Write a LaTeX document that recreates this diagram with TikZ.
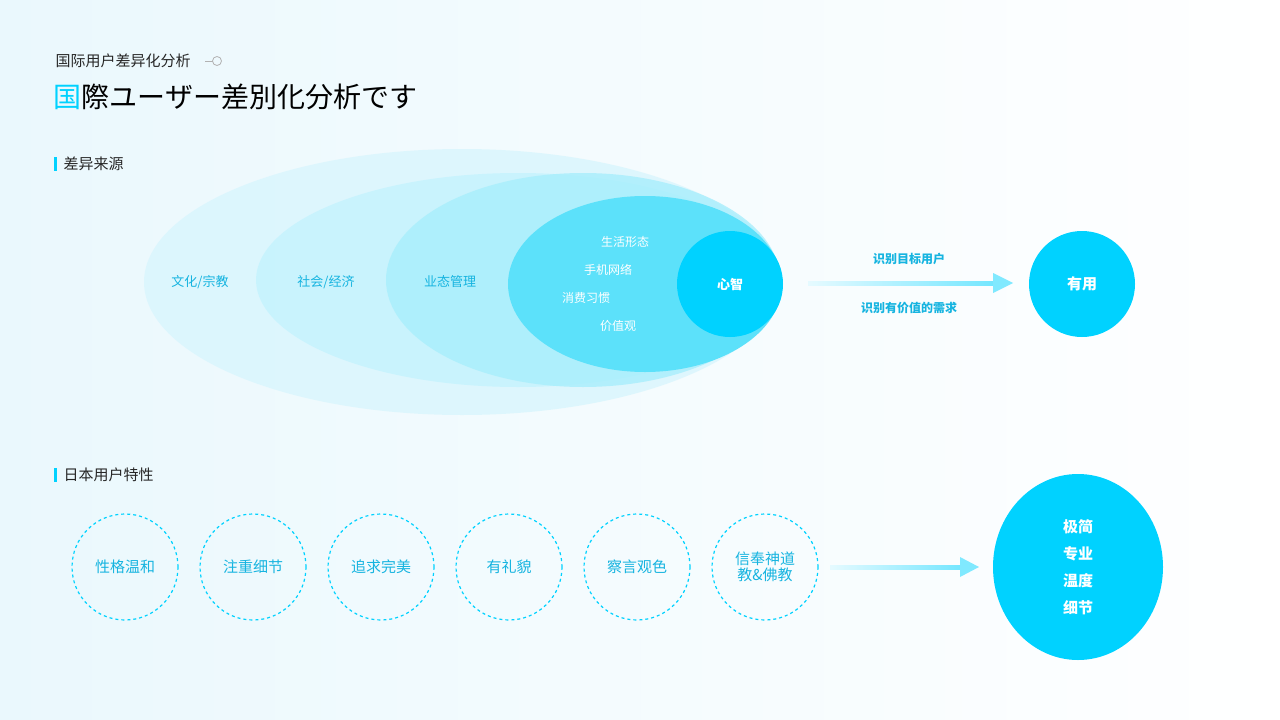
\documentclass[tikz,border=0pt]{standalone}
\usepackage{fontspec}
\setmainfont{Noto Sans CJK SC}
\newfontfamily\jp{Noto Sans CJK JP}
\usetikzlibrary{arrows.meta}
\definecolor{cyanA}{HTML}{00D2FF}
\definecolor{cyanB}{HTML}{5CE1FA}
\definecolor{cyanC}{HTML}{A8EEFC}
\definecolor{cyanD}{HTML}{C4F3FD}
\definecolor{cyanE}{HTML}{DAF6FD}
\definecolor{txt}{HTML}{16B4E0}
\definecolor{bgA}{HTML}{EAF8FD}
\tikzset{
 lbl/.style={font=\fontsize{13}{15}\selectfont, text=txt},
 wlbl/.style={font=\fontsize{13}{15}\selectfont\bfseries, text=white},
 dcirc/.style={circle, draw=cyanA, dashed, line width=1.2pt, minimum size=106pt, inner sep=0pt, font=\fontsize{15}{18}\selectfont, text=txt, align=center},
 head/.style={font=\fontsize{15}{18}\selectfont, anchor=west, text=black!85},
 bar/.style={line width=3pt, draw=cyanA}
}
\begin{document}
\begin{tikzpicture}[x=1pt,y=-1pt]
\useasboundingbox (0,0) rectangle (1280,720);
\shade[left color=bgA, right color=white] (0,0) rectangle (1280,720);
% titles
\node[head, font=\fontsize{15}{18}\selectfont] (t1) at (52,61) {国际用户差异化分析};
\draw[black!30, line width=0.8pt] (205,61) -- (213,61);
\draw[black!30, line width=0.8pt] (217,61) circle (4.5);
\node[anchor=west, font=\fontsize{28}{32}\selectfont\jp] (t2) at (50,97) {\textcolor{cyanA}{国}際ユーザー差別化分析です};
\draw[bar] (55,157) -- (55,171);
\node[head] (h1) at (60,164) {差异来源};
\draw[bar] (55,468) -- (55,482);
\node[head] (h2) at (60,475) {日本用户特性};
% ellipses
\fill[cyanE, opacity=0.85] (462,282) ellipse (318 and 133);
\fill[cyanD, opacity=0.8] (518,280) ellipse (262 and 107);
\fill[cyanC, opacity=0.8] (583,280) ellipse (197 and 107);
\fill[cyanB] (645,284) ellipse (137 and 88);
\node[circle, fill=cyanA, minimum size=106pt, inner sep=0pt, wlbl] (xz) at (730,284) {心智};
\node[lbl] (a1) at (200,282) {文化/宗教};
\node[lbl] (a2) at (326,282) {社会/经济};
\node[lbl] (a3) at (450,282) {业态管理};
\node[wlbl, font=\fontsize{12}{14}\selectfont] (b1) at (625,242) {生活形态};
\node[wlbl, font=\fontsize{12}{14}\selectfont] (b2) at (608,270) {手机网络};
\node[wlbl, font=\fontsize{12}{14}\selectfont] (b3) at (586,298) {消费习惯};
\node[wlbl, font=\fontsize{12}{14}\selectfont] (b4) at (618,326) {价值观};
% arrow 1
\node[circle, fill=cyanA, minimum size=106pt, inner sep=0pt, wlbl, font=\fontsize{15}{18}\selectfont\bfseries] (yy) at (1082,284) {有用};
\coordinate (s1) at (808,283);
\shade[left color=cyanA!10, right color=cyanA!55] (808,281) rectangle (995,285);
\fill[cyanA!50] (993,273) -- (1013,283) -- (993,293) -- cycle;
\node[lbl, font=\fontsize{12}{14}\selectfont\bfseries] (c1) at (909,259) {识别目标用户};
\node[lbl, font=\fontsize{12}{14}\selectfont\bfseries] (c2) at (909,308) {识别有价值的需求};
% bottom
\node[dcirc] (d1) at (125,567) {性格温和};
\node[dcirc] (d2) at (253,567) {注重细节};
\node[dcirc] (d3) at (381,567) {追求完美};
\node[dcirc] (d4) at (509,567) {有礼貌};
\node[dcirc] (d5) at (637,567) {察言观色};
\node[dcirc] (d6) at (765,567) {信奉神道\\[-2pt]教\&佛教};
\shade[left color=cyanA!10, right color=cyanA!55] (830,565) rectangle (962,569);
\fill[cyanA!50] (960,557) -- (979,567) -- (960,577) -- cycle;
\fill[cyanA] (1078,567) ellipse (85 and 93);
\node[wlbl, font=\fontsize{15}{18}\selectfont\bfseries] (e1) at (1078,527) {极简};
\node[wlbl, font=\fontsize{15}{18}\selectfont\bfseries] (e2) at (1078,554) {专业};
\node[wlbl, font=\fontsize{15}{18}\selectfont\bfseries] (e3) at (1078,581) {温度};
\node[wlbl, font=\fontsize{15}{18}\selectfont\bfseries] (e4) at (1078,608) {细节};
\end{tikzpicture}
\end{document}
